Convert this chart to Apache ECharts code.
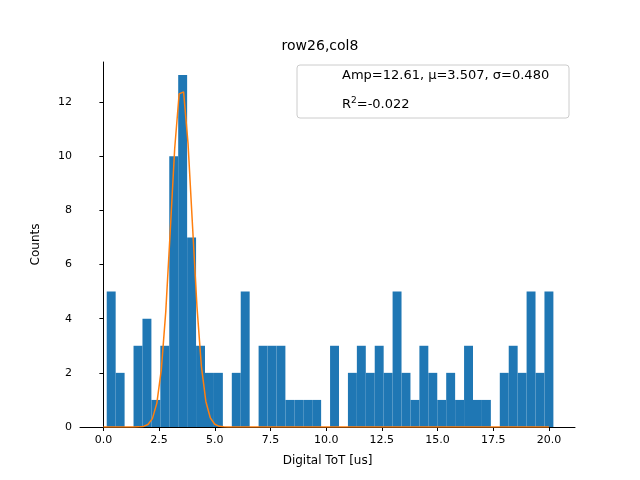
<!DOCTYPE html>
<html>
<head>
<meta charset="utf-8">
<script src="https://cdn.jsdelivr.net/npm/echarts@6/dist/echarts.min.js"></script>
<style>html,body{margin:0;padding:0;background:#fff}#chart{width:640px;height:480px}</style>
</head>
<body>
<div id="chart"></div>
<script>
// histogram bins
const binStart = 0.15;
const binWidth = 0.401;
const counts = [5, 2, 0, 3, 4, 1, 3, 10, 13, 7, 3, 2, 2, 0, 2, 5, 0, 3, 3, 3,
  1, 1, 1, 1, 0, 3, 0, 2, 3, 2, 3, 2, 5, 2, 1, 3, 2, 1, 2, 1,
  3, 1, 1, 0, 2, 3, 2, 5, 2, 5];
// fit result
const amp = 12.61, mu = 3.507, sigma = 0.480, r2 = -0.022;
const xTicks = [0, 2.5, 5, 7.5, 10, 12.5, 15, 17.5, 20];

const bars = counts.map((c, i) => [binStart + i * binWidth, binStart + (i + 1) * binWidth, c]);
const fit = [];
for (let i = 0; i <= 100; i++) {
  const x = i * 0.2;
  fit.push([x, amp * Math.exp(-((x - mu) ** 2) / (2 * sigma * sigma))]);
}

const chart = echarts.init(document.getElementById('chart'));
const font = 'DejaVu Sans';
chart.setOption({
  animation: false,
  textStyle: { fontFamily: font },
  title: { text: 'row26,col8', left: 'center', top: 34, textStyle: { fontSize: 14, fontWeight: 'normal', color: '#000', fontFamily: font } },
  grid: { left: 80, right: 65, top: 62, bottom: 53 },
  xAxis: {
    type: 'value', min: -1.05, max: 21.17,
    name: 'Digital ToT [us]', nameLocation: 'middle', nameGap: 28,
    nameTextStyle: { color: '#000', fontSize: 12 },
    axisLine: { onZero: false, lineStyle: { color: '#000' } },
    axisTick: { customValues: xTicks, length: 4, inside: false, lineStyle: { color: '#000' } },
    axisLabel: { customValues: xTicks, color: '#000', fontSize: 11, formatter: v => v.toFixed(1) },
    splitLine: { show: false }
  },
  yAxis: {
    type: 'value', min: 0, max: 13.48, interval: 2,
    name: 'Counts', nameLocation: 'middle', nameGap: 38,
    nameTextStyle: { color: '#000', fontSize: 12 },
    axisLine: { show: true, lineStyle: { color: '#000' } },
    axisTick: { show: true, length: 4, lineStyle: { color: '#000' } },
    axisLabel: { color: '#000', fontSize: 11, showMaxLabel: false },
    splitLine: { show: false }
  },
  graphic: [
    { type: 'rect', shape: { x: 297, y: 65, width: 272, height: 53, r: 3 }, style: { fill: '#fff', stroke: '#ccc', lineWidth: 1 }, z: 10 },
    { type: 'text', left: 342, top: 69, z: 11, style: { text: 'Amp=' + amp.toFixed(2) + ', μ=' + mu.toFixed(3) + ', σ=' + sigma.toFixed(3), fontSize: 13, fontFamily: font, fill: '#000' } },
    { type: 'text', left: 342, top: 96, z: 11, style: { text: '{a|R}{s|2}{a|=' + r2.toFixed(3) + '}', rich: { a: { fontSize: 13, fontFamily: font, fill: '#000', verticalAlign: 'bottom' }, s: { fontSize: 9, fontFamily: font, fill: '#000', verticalAlign: 'top', padding: [0, 0, 6, 0] } } } }
  ],
  series: [
    {
      type: 'custom', data: bars,
      renderItem: (params, api) => {
        const p0 = api.coord([api.value(0), api.value(2)]);
        const p1 = api.coord([api.value(1), 0]);
        return { type: 'rect', shape: { x: p0[0], y: p0[1], width: p1[0] - p0[0], height: p1[1] - p0[1] }, style: { fill: '#1f77b4' } };
      },
      encode: { x: [0, 1], y: 2 }
    },
    { type: 'line', data: fit, showSymbol: false, lineStyle: { color: '#ff7f0e', width: 1.5 }, itemStyle: { color: '#ff7f0e' }, z: 5 }
  ]
});
</script>
</body>
</html>
